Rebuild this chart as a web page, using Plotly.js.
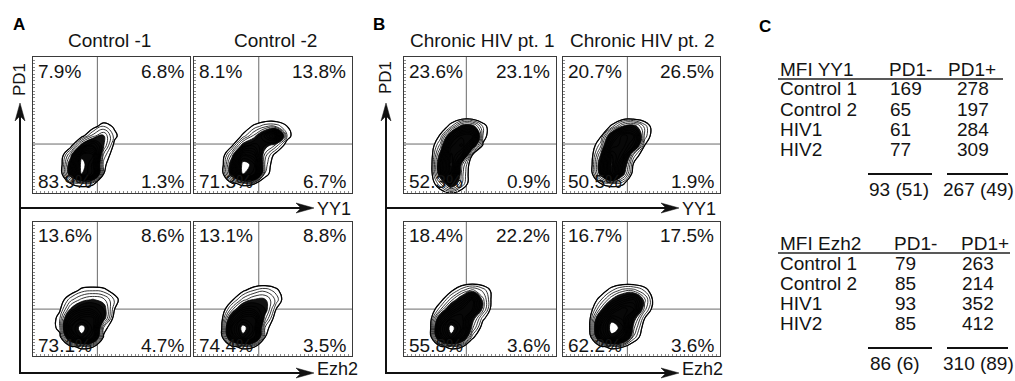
<!DOCTYPE html>
<html><head><meta charset="utf-8">
<script src="https://cdn.plot.ly/plotly-3.0.1.min.js"></script>
<style>html,body{margin:0;padding:0;background:#fff}#chart{width:1015px;height:381px}</style>
</head><body><div id="chart"></div>
<script>
// ---------------- data ----------------
const panelTitles = ['Control -1', 'Control -2', 'Chronic HIV pt. 1', 'Chronic HIV pt. 2'];
const rowMarkers = ['YY1', 'Ezh2'];
const yMarker = 'PD1';
// quadrant percentages: [upper-left, upper-right, lower-left, lower-right]
const quadYY1 = [[7.9, 6.8, 83.9, 1.3], [8.1, 13.8, 71.3, 6.7], [23.6, 23.1, 52.3, 0.9], [20.7, 26.5, 50.5, 1.9]];
const quadEzh2 = [[13.6, 8.6, 73.1, 4.7], [13.1, 8.8, 74.4, 3.5], [18.4, 22.2, 55.8, 3.6], [16.7, 17.5, 62.2, 3.6]];
const gateX = 41;            // quadrant gate on marker axis (% of axis)
const gateY = [36, 35];      // quadrant gate on PD1 axis, per row
// density grids (estimated), x across, rows from top (y=56) to bottom (y=0)
const densX = [10, 17, 24, 31, 38, 45, 52, 59, 66];
const densY = [56, 49, 42, 35, 28, 21, 14, 7, 0];
const densYY1 = [
  [[0,0,0,0,0,0,0,0,0],[0,0,0,0,0.5,1.6,0.8,0,0],[0,0,0,0.6,2.5,3.5,1.3,0,0],[0,0,0.5,4,6,3.5,0.6,0,0],[0,0,3,9,9,2,0.2,0,0],[0,0,4.5,10,8,1.3,0,0,0],[0,0,4.5,9.5,8,1,0,0,0],[0,0,1,1.5,1.2,0.2,0,0,0],[0,0,0,0,0,0,0,0,0]],
  [[0,0,0,0,0,0,0,0,0],[0,0,0,0.3,1.2,2,2,1,0],[0,0,0,1.2,3,5.5,8,1.5,0],[0,0,0.8,4,5,4,2.5,0.3,0],[0,0,3,8,7,2.5,0.5,0,0],[0,0,4.5,10,9,2,0,0,0],[0,0,4.5,9.5,8.5,1.5,0,0,0],[0,0,0.8,1.3,1.1,0,0,0,0],[0,0,0,0,0,0,0,0,0]],
  [[0,0,0,0,0,0,0,0,0],[0,0,0,1.5,4,4,1.5,0,0],[0,0,1.2,5,8,8,1.5,0,0],[0,0,2.5,8,9,5,0.8,0,0],[0,0,4,9,7,1,0,0,0],[0,0,5,9.5,3,0,0,0,0],[0,0,4.5,9,2.5,0,0,0,0],[0,0,2.2,5,2.2,0,0,0,0],[0,0,0.3,1,0.3,0,0,0,0]],
  [[0,0,0,0,0,0,0,0,0],[0,0,0,1.2,3.5,4,2,0,0],[0,0,0.8,5,8,7,2,0,0],[0,0,2,7,8,6,1,0,0],[0,0,3.5,9,7,2,0,0,0],[0,0,4.5,9.5,5,0.8,0,0,0],[0,0,4,9,4,0.3,0,0,0],[0,0,1,1.5,1.2,0,0,0,0],[0,0,0,0,0,0,0,0,0]]
];
const densEzh2 = [
  [[0,0,0,0,0,0,0,0,0],[0,0,0.3,1.3,1.5,1.3,0.5,0,0],[0,0.3,2,3,3.5,3,1.5,0,0],[0,0.8,3.5,5,5,4,1,0,0],[0,1.5,6,8,8,4,0.3,0,0],[0,1.5,8,10,8,1.5,0,0,0],[0,0.5,6,9,7,0.8,0,0,0],[0,0,0.8,1.3,1.1,0,0,0,0],[0,0,0,0,0,0,0,0,0]],
  [[0,0,0,0,0,0,0,0,0],[0,0,0,0.8,1.6,2,1.3,0,0],[0,0,0.8,2.5,3.5,3.5,2,0,0],[0,0,2.5,5,5,4,1,0,0],[0,0.3,5,8,8,3,0.2,0,0],[0,0.5,7,10,8,1.5,0,0,0],[0,0.2,6,9,7,1,0,0,0],[0,0,0.8,1.3,1.1,0,0,0,0],[0,0,0,0,0,0,0,0,0]],
  [[0,0,0,0,0,0,0,0,0],[0,0,0,0.8,2,3,2,0.5,0],[0,0,0.6,2.5,4.5,7,3,0.3,0],[0,0,2,5,7,7,3,0,0],[0,0.3,5,8,8,4,1.2,0,0],[0,0.5,7,10,8,3,0.3,0,0],[0,0.2,6,9,6,1.2,0,0,0],[0,0,0.8,1.3,1.1,0,0,0,0],[0,0,0,0,0,0,0,0,0]],
  [[0,0,0,0,0,0,0,0,0],[0,0,0.3,1.5,2.5,2.5,1.5,0,0],[0,0,1.5,3.5,5,6,3,0.2,0],[0,0.3,3,6,8,7,2.5,0,0],[0,0.8,5.5,9,8,4,1,0,0],[0,1,7,10,9,3,0.3,0,0],[0,0.3,6,9,7,2,0,0,0],[0,0,0.8,1.3,1.1,0,0,0,0],[0,0,0,0,0,0,0,0,0]]
];
// Table C
const tableSamples = ['Control 1', 'Control 2', 'HIV1', 'HIV2'];
const tableColumns = ['PD1-', 'PD1+'];
const mfiYY1Neg = [169, 65, 61, 77];
const mfiYY1Pos = [278, 197, 284, 309];
const mfiEzh2Neg = [79, 85, 93, 85];
const mfiEzh2Pos = [263, 214, 352, 412];

// ---------------- layout helpers ----------------
const W = 1015, H = 381;
const FONT = '"Liberation Sans", Arial, Helvetica, sans-serif';
const INK = '#141414';
const px = x => x / W;
const py = y => 1 - y / H;
const colPx = [[33, 190], [194, 352], [404, 556], [563, 720]];
const rowPx = [[57, 193], [222, 356]];

const traces = [], annotations = [], shapes = [];
const layout = {
  width: W, height: H, margin: {l: 0, r: 0, t: 0, b: 0},
  paper_bgcolor: '#fff', plot_bgcolor: 'rgba(0,0,0,0)', showlegend: false,
  hovermode: false, font: {family: FONT, color: INK}
};

const yAsc = densY.slice().reverse();
const fillScale = [
  [0, 'rgba(255,255,255,0)'], [0.04, 'rgba(255,255,255,0)'], [0.05, '#ffffff'],
  [0.27, '#ffffff'], [0.31, '#151515'], [0.4, '#080808'], [0.95, '#080808'], [0.96, '#ffffff'], [1, '#ffffff']
];

function fmtPct(v) { return v.toFixed(1) + '%'; }

for (let r = 0; r < 2; r++) {
  const quads = r === 0 ? quadYY1 : quadEzh2;
  const dens = r === 0 ? densYY1 : densEzh2;
  for (let c = 0; c < 4; c++) {
    const n = r * 4 + c + 1;
    const xa = 'xaxis' + (n === 1 ? '' : n), ya = 'yaxis' + (n === 1 ? '' : n);
    const xr = 'x' + (n === 1 ? '' : n), yr = 'y' + (n === 1 ? '' : n);
    const axCommon = {range: [0, 100], showgrid: false, zeroline: false, showticklabels: false,
      showline: true, mirror: true, linecolor: '#3a3a3a', linewidth: 1,
      ticks: 'inside', ticklen: 2, tickwidth: 1, tickcolor: '#8a8a8a', dtick: 2.5, fixedrange: true};
    layout[xa] = Object.assign({}, axCommon, {domain: [px(colPx[c][0]), px(colPx[c][1])], anchor: yr});
    layout[ya] = Object.assign({}, axCommon, {domain: [py(rowPx[r][1]), py(rowPx[r][0])], anchor: xr});

    const zAsc = dens[c].slice().reverse();
    traces.push({
      type: 'contour', x: densX, y: yAsc, z: zAsc,
      xaxis: xr, yaxis: yr, showscale: false, hoverinfo: 'skip',
      autocontour: false, contours: {start: 1, end: 9.4, size: 0.6, coloring: 'fill', showlines: true},
      colorscale: fillScale, zmin: 0, zmax: 10,
      line: {color: '#000', width: 0.8, smoothing: 1.3}
    });
    // bolder outermost contour
    traces.push({
      type: 'contour', x: densX, y: yAsc, z: zAsc,
      xaxis: xr, yaxis: yr, showscale: false, hoverinfo: 'skip',
      autocontour: false, contours: {start: 1, end: 1, size: 1, coloring: 'none', showlines: true},
      line: {color: '#000', width: 1.2, smoothing: 1.3}
    });

    // quadrant gates
    shapes.push({type: 'line', xref: xr, yref: yr, x0: gateX, x1: gateX, y0: 0, y1: 100, layer: 'below', line: {color: '#6a6a6a', width: 1}});
    shapes.push({type: 'line', xref: xr, yref: yr, x0: 0, x1: 100, y0: gateY[r], y1: gateY[r], layer: 'below', line: {color: '#6a6a6a', width: 1}});

    // quadrant percentages
    const q = quads[c];
    const pf = {family: FONT, size: 19, color: INK};
    annotations.push({xref: xr, yref: yr, x: 0, y: 89.7, xanchor: 'left', yanchor: 'middle', xshift: 3, text: fmtPct(q[0]), showarrow: false, font: pf});
    annotations.push({xref: xr, yref: yr, x: 100, y: 89.7, xanchor: 'right', yanchor: 'middle', xshift: -4, text: fmtPct(q[1]), showarrow: false, font: pf});
    annotations.push({xref: xr, yref: yr, x: 0, y: 8.1, xanchor: 'left', yanchor: 'middle', xshift: 3, text: fmtPct(q[2]), showarrow: false, font: pf});
    annotations.push({xref: xr, yref: yr, x: 100, y: 8.1, xanchor: 'right', yanchor: 'middle', xshift: -4, text: fmtPct(q[3]), showarrow: false, font: pf});
  }
}

function txt(x, y, text, opts) {
  annotations.push(Object.assign({xref: 'paper', yref: 'paper', x: px(x), y: py(y), text: text,
    showarrow: false, xanchor: 'left', yanchor: 'middle', font: {family: FONT, size: 19, color: INK}}, opts || {}));
}

// panel titles
const titleCx = [109, 275, 482, 642];
panelTitles.forEach((t, i) => txt(titleCx[i], 41, t, {xanchor: 'center'}));
// panel letters
txt(19, 25, '<b>A</b>', {xanchor: 'center', font: {family: FONT, size: 17, color: '#000'}});
txt(379, 24, '<b>B</b>', {xanchor: 'center', font: {family: FONT, size: 17, color: '#000'}});
txt(765, 26, '<b>C</b>', {xanchor: 'center', font: {family: FONT, size: 17, color: '#000'}});

// big axis arrows (L shapes) for A and B
function arrowSet(x0, tipX, labelX) {
  const lw = 2, col = '#111';
  const path = `M ${px(x0)},${py(116)} L ${px(x0)},${py(373)} L ${px(tipX - 12)},${py(373)} M ${px(x0)},${py(208)} L ${px(tipX - 12)},${py(208)}`;
  shapes.push({type: 'path', xref: 'paper', yref: 'paper', path: path, line: {color: col, width: lw}});
  // vertical arrowhead
  shapes.push({type: 'path', xref: 'paper', yref: 'paper', fillcolor: col, line: {color: col, width: 0.5},
    path: `M ${px(x0)},${py(103)} L ${px(x0 - 5)},${py(121)} L ${px(x0)},${py(116)} L ${px(x0 + 5)},${py(121)} Z`});
  [208, 373].forEach(yy => {
    shapes.push({type: 'path', xref: 'paper', yref: 'paper', fillcolor: col, line: {color: col, width: 0.5},
      path: `M ${px(tipX)},${py(yy)} L ${px(tipX - 18)},${py(yy - 5)} L ${px(tipX - 13)},${py(yy)} L ${px(tipX - 18)},${py(yy + 5)} Z`});
  });
  txt(labelX, 209, rowMarkers[0], {font: {family: FONT, size: 18, color: INK}});
  txt(labelX, 381, rowMarkers[1], {yanchor: 'bottom', font: {family: FONT, size: 18, color: INK}});
}
arrowSet(20, 314, 315);
arrowSet(386, 679, 680);
txt(19, 80, yMarker, {xanchor: 'center', textangle: -90, font: {family: FONT, size: 17, color: INK}});
txt(386, 78, yMarker, {xanchor: 'center', textangle: -90, font: {family: FONT, size: 17, color: INK}});

// ---------------- table C ----------------
function meanSd(arr) {
  const m = arr.reduce((a, b) => a + b, 0) / arr.length;
  const sd = Math.sqrt(arr.reduce((a, b) => a + (b - m) * (b - m), 0) / (arr.length - 1));
  return Math.round(m) + ' (' + Math.round(sd) + ')';
}
function table(title, neg, pos, y0, cfg) {
  txt(778, y0, title);
  txt(cfg.hNeg, y0, tableColumns[0]);
  txt(cfg.hPos, y0, tableColumns[1]);
  shapes.push({type: 'line', xref: 'paper', yref: 'paper', x0: px(778), x1: px(cfg.ulEnd), y0: py(y0 + 10), y1: py(y0 + 10), line: {color: '#222', width: 1.3}});
  tableSamples.forEach((s, i) => {
    const yy = y0 + 20 + 20 * i;
    txt(778, yy, s);
    txt(cfg.vNeg, yy, String(neg[i]));
    txt(cfg.vPos, yy, String(pos[i]));
  });
  const yl = y0 + 105;
  shapes.push({type: 'line', xref: 'paper', yref: 'paper', x0: px(868), x1: px(932), y0: py(yl), y1: py(yl), line: {color: '#111', width: 2}});
  shapes.push({type: 'line', xref: 'paper', yref: 'paper', x0: px(947), x1: px(1008), y0: py(yl), y1: py(yl), line: {color: '#111', width: 2}});
  txt(cfg.sNeg, y0 + 120, meanSd(neg), {xanchor: 'center'});
  txt(978, y0 + 120, meanSd(pos), {xanchor: 'center'});
}
table('MFI YY1', mfiYY1Neg, mfiYY1Pos, 69, {hNeg: 887, hPos: 946, vNeg: 888, vPos: 955, ulEnd: 1003, sNeg: 899});
table('MFI Ezh2', mfiEzh2Neg, mfiEzh2Pos, 243, {hNeg: 892, hPos: 959, vNeg: 893, vPos: 960, ulEnd: 1010, sNeg: 895});

layout.annotations = annotations;
layout.shapes = shapes;
Plotly.newPlot('chart', traces, layout, {staticPlot: true, displayModeBar: false});
</script>
</body></html>
